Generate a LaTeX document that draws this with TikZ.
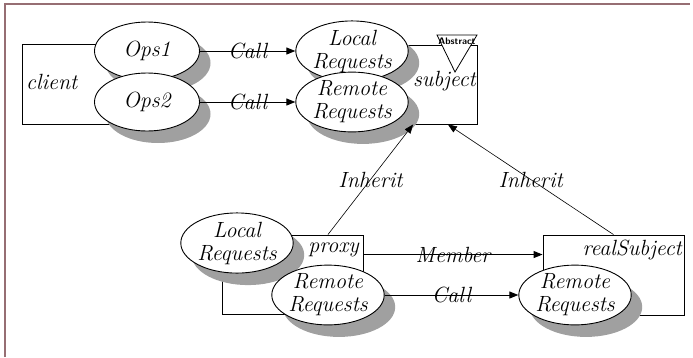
\documentclass[tikz,border=0pt]{standalone}
\usepackage{fontspec}
\usetikzlibrary{shapes.geometric,shadows,arrows.meta,calc}
\definecolor{framecol}{RGB}{150,110,115}
\definecolor{shadowcol}{RGB}{160,160,160}
\newcommand{\lblfont}{\fontsize{22}{23}\selectfont\itshape\addfontfeatures{LetterSpace=4}}
\tikzset{
  lbl/.style={font=\lblfont, inner sep=0pt},
  req/.style={ellipse, draw, fill=white, line width=0.9pt, minimum width=105pt, minimum height=58pt,
    inner sep=0pt, align=center, font=\lblfont,
    drop shadow={shadow xshift=11pt, shadow yshift=-12pt, opacity=1, fill=shadowcol}},
  cls/.style={rectangle, draw, line width=0.9pt, inner sep=0pt, fill=white},
  arr/.style={line width=0.9pt, -{Triangle[length=9pt,width=7pt]}},
  inh/.style={line width=0.6pt, -{Triangle[length=9pt,width=7pt]}},
}
\begin{document}
\begin{tikzpicture}[x=1pt,y=-1pt]
\useasboundingbox (0,0) rectangle (693,357);
\draw[framecol, line width=1.5pt] (5,357) -- (5,4) -- (690,4);

% class boxes
\node[cls, minimum width=118pt, minimum height=80pt] (client) at (81,84) {};
\node[cls, minimum width=147pt, minimum height=79pt] (subject) at (403.5,84.5) {};
\node[cls, minimum width=141pt, minimum height=79pt] (proxy) at (292.5,274.5) {};
\node[cls, minimum width=141pt, minimum height=80pt] (realS) at (613.5,275) {};

% box titles
\node[lbl, anchor=west] (clientT) at (26,82) {client};
\node[lbl, anchor=east] (subjectT) at (476,81) {subject};
\node[lbl, anchor=east] (proxyT) at (359,250) {proxy};
\node[lbl, anchor=east] (realST) at (682,250) {realSubject};

% abstract marker
\draw[line width=0.8pt, fill=white] (437,35) -- (477,35) -- (455,72) -- cycle;
\node[font=\fontsize{9.5}{9.5}\selectfont\sffamily\bfseries, inner sep=0pt] (abs) at (457,41) {Abstract};

% operation ellipses
\node[req] (ops1) at (147,51) {Ops1};
\node[req] (ops2) at (147,102) {Ops2};
\node[req] (lreq) at (352,51) {Local\\Requests};
\node[req] (rreq) at (352,102) {Remote\\Requests};
\node[req] (plreq) at (237,243) {Local\\Requests};
\node[req] (prreq) at (328,295) {Remote\\Requests};
\node[req] (rrreq) at (575,295) {Remote\\Requests};

% connectors
\draw[arr] (ops1) -- node[lbl] (c1) {Call} (lreq);
\draw[arr] (ops2) -- node[lbl] (c2) {Call} (rreq);
\draw[arr] (prreq) -- node[lbl] (c3) {Call} (rrreq);
\coordinate (m1) at ($(proxy.north east)!0.25!(proxy.south east)$);
\draw[arr] (m1) -- node[lbl] (mem) {Member} (realS.west |- m1);
\coordinate (i1s) at ($(proxy.north west)!0.75!(proxy.north east)$);
\coordinate (i1e) at ($(subject.south west)!0.565!(subject.south east)$);
\draw[inh] (i1s) -- node[lbl] (inh1) {Inherit} (i1e);
\coordinate (i2e) at ($(subject.south west)!0.8!(subject.south east)$);
\draw[inh] (realS.north) -- node[lbl] (inh2) {Inherit} (i2e);
\end{tikzpicture}
\end{document}
